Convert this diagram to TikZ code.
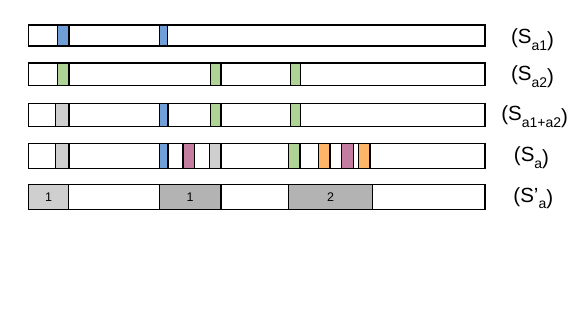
\documentclass[tikz,border=0pt]{standalone}
\usepackage{fontspec}
\setmainfont{Liberation Sans}
\definecolor{cblue}{HTML}{6F9FD6}
\definecolor{cgreen}{HTML}{AFD395}
\definecolor{cgrayl}{HTML}{CFCFCF}
\definecolor{cgrayd}{HTML}{B3B3B3}
\definecolor{cpink}{HTML}{C27DA1}
\definecolor{corange}{HTML}{FFB567}
\newcommand\lsub[1]{\raisebox{-6.5pt}{\fontsize{14}{14}\selectfont #1}}
\newcommand\rpar{\raisebox{-2.5pt}{)}}
\tikzset{
  barbox/.style={draw=black,line width=1.4pt,fill=white},
  segbox/.style={draw=black,line width=1.2pt},
  lbl/.style={anchor=base,inner sep=0pt,font=\fontsize{20.5}{20.5}\selectfont},
  num/.style={inner sep=0pt,font=\fontsize{12.5}{12.5}\selectfont}
}
\begin{document}
\begin{tikzpicture}[x=1pt,y=-1pt]
\useasboundingbox (0,0) rectangle (581,327);
% row 1
\draw[barbox] (28.7,25) rectangle (485,46);
\draw[segbox,fill=cblue] (57.3,25) rectangle (69,46);
\draw[segbox,fill=cblue] (159.3,25) rectangle (167.8,46);
% row 2
\draw[barbox] (28.7,63) rectangle (485,85.3);
\draw[segbox,fill=cgreen] (57.3,63) rectangle (69,85.3);
\draw[segbox,fill=cgreen] (210.3,63) rectangle (221,85.3);
\draw[segbox,fill=cgreen] (290.5,63) rectangle (300.5,85.3);
% row 3
\draw[barbox] (28.7,103.3) rectangle (485,126.7);
\draw[segbox,fill=cgrayl] (55.3,103.3) rectangle (69,126.7);
\draw[segbox,fill=cblue] (159.3,103.3) rectangle (168,126.7);
\draw[segbox,fill=cgreen] (210.3,103.3) rectangle (221,126.7);
\draw[segbox,fill=cgreen] (290.5,103.3) rectangle (300.5,126.7);
% row 4
\draw[barbox] (28.7,143.5) rectangle (485,168.5);
\draw[segbox,fill=cgrayl] (55.3,143.5) rectangle (69,168.5);
\draw[segbox,fill=cblue] (159.3,143.5) rectangle (168,168.5);
\draw[segbox,fill=cpink] (183,143.5) rectangle (194.3,168.5);
\draw[segbox,fill=cgrayl] (209.7,143.5) rectangle (221,168.5);
\draw[segbox,fill=cgreen] (288.7,143.5) rectangle (300,168.5);
\draw[segbox,fill=corange] (318.7,143.5) rectangle (330,168.5);
\draw[segbox,fill=cpink] (341.7,143.5) rectangle (353.3,168.5);
\draw[segbox,fill=corange] (358.3,143.5) rectangle (370,168.5);
% row 5
\draw[barbox] (28.7,184.5) rectangle (485,209.5);
\draw[segbox,fill=cgrayl] (28.7,184.5) rectangle (68.3,209.5);
\draw[segbox,fill=cgrayd] (159.3,184.5) rectangle (221,209.5);
\draw[segbox,fill=cgrayd] (288.7,184.5) rectangle (372.7,209.5);
\draw[barbox,fill=none] (28.7,184.5) rectangle (485,209.5);
\node[num] (n1) at (48.5,197) {1};
\node[num] (n2) at (190.2,197) {1};
\node[num] (n3) at (330.7,197) {2};
% labels
\node[lbl] (l1) at (532.5,43.5) {(S\lsub{a1}\rpar};
\node[lbl] (l2) at (532.5,80.5) {(S\lsub{a2}\rpar};
\node[lbl] (l3) at (534.7,120.5) {(S\lsub{a1+a2}\rpar};
\node[lbl] (l4) at (531.5,161.5) {(S\lsub{a}\rpar};
\node[lbl] (l5) at (533.3,202) {(S'\lsub{a}\rpar};
\end{tikzpicture}
\end{document}
